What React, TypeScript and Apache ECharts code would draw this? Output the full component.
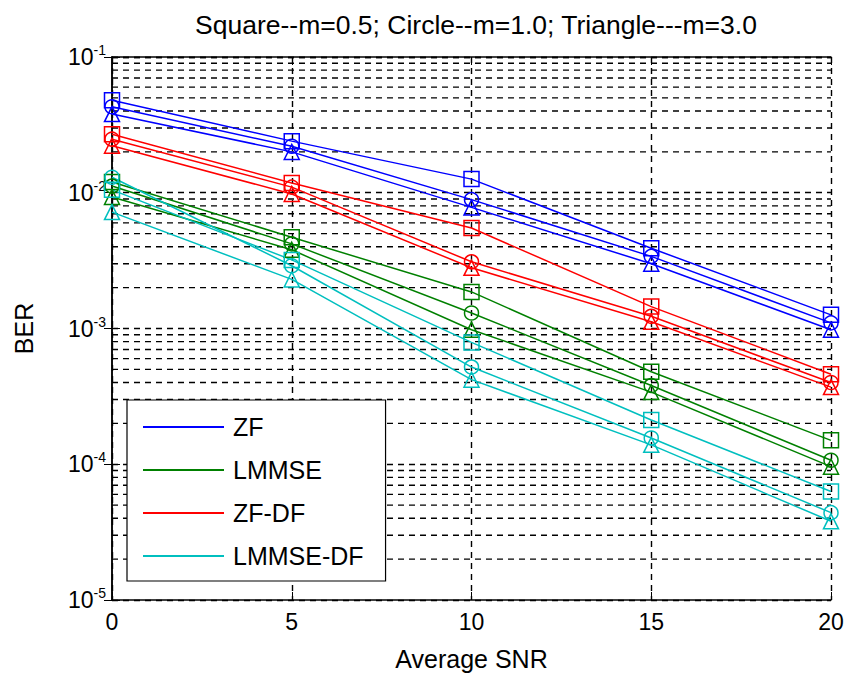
import React, { useEffect, useRef } from "react";
import * as echarts from "echarts";

const snr = [0, 5, 10, 15, 20];
const xTicks = [0, 5, 10, 15, 20];
const methods = ["ZF", "LMMSE", "ZF-DF", "LMMSE-DF"];
const methodColors = ["#0000ff", "#008000", "#ff0000", "#00bfbf"];
const markerNames = ["Square", "Circle", "Triangle"];
const markerSymbols = ["rect", "circle", "triangle"];

const zfSquare = [0.048, 0.024, 0.0126, 0.0039, 0.00126];
const zfCircle = [0.043, 0.022, 0.0089, 0.0034, 0.0011];
const zfTriangle = [0.038, 0.02, 0.0078, 0.003, 0.00098];

const lmmseSquare = [0.012, 0.0047, 0.00186, 0.00048, 0.00015];
const lmmseCircle = [0.0112, 0.0042, 0.0013, 0.00038, 0.000107];
const lmmseTriangle = [0.0093, 0.0038, 0.00098, 0.00034, 0.000096];

const zfdfSquare = [0.027, 0.0118, 0.0055, 0.00145, 0.00046];
const zfdfCircle = [0.0248, 0.011, 0.0031, 0.00123, 0.0004];
const zfdfTriangle = [0.0222, 0.0098, 0.0028, 0.00112, 0.00037];

const lmmsedfSquare = [0.0105, 0.0032, 0.00079, 0.000212, 0.000063];
const lmmsedfCircle = [0.013, 0.0029, 0.00052, 0.000156, 0.000044];
const lmmsedfTriangle = [0.0072, 0.0023, 0.00042, 0.000139, 0.000038];

const seriesValues = [
  [zfSquare, zfCircle, zfTriangle],
  [lmmseSquare, lmmseCircle, lmmseTriangle],
  [zfdfSquare, zfdfCircle, zfdfTriangle],
  [lmmsedfSquare, lmmsedfCircle, lmmsedfTriangle],
];

const yMin = 1e-5;
const yMax = 1e-1;
const minorMultipliers = [2, 3, 4, 5, 6, 7, 8, 9];
const minorDecades = [1e-5, 1e-4, 1e-3, 1e-2];

const titleText = "Square--m=0.5; Circle--m=1.0; Triangle---m=3.0";
const xName = "Average SNR";
const yName = "BER";

const FONT = "'Liberation Sans', Arial, sans-serif";

export default function App() {
  const ref = useRef<HTMLDivElement>(null);

  useEffect(() => {
    if (!ref.current) return;
    const chart = echarts.init(ref.current, null, { renderer: "svg" });

    const gridDash = { color: "#000", type: [6, 5] as any, width: 1.4 };

    const series: any[] = [];

    // minor grid lines at 2..9 x 10^k, drawn through the axis scales
    minorDecades.forEach((d) =>
      minorMultipliers.forEach((m) => {
        const v = m * d;
        series.push({
          name: "grid " + v,
          type: "line",
          data: [
            [xTicks[0], v],
            [xTicks[xTicks.length - 1], v],
          ],
          symbol: "none",
          silent: true,
          lineStyle: gridDash,
          emphasis: { disabled: true },
          z: 1,
        });
      })
    );

    methods.forEach((name, mi) => {
      markerSymbols.forEach((sym, si) => {
        series.push({
          name: name + " " + markerNames[si],
          type: "line",
          xAxisIndex: 0,
          yAxisIndex: 0,
          data: snr.map((x, i) => [x, seriesValues[mi][si][i]]),
          symbol: sym,
          symbolSize: sym === "circle" ? 14 : 15,
          lineStyle: { color: methodColors[mi], width: 1.5 },
          itemStyle: {
            color: "rgba(0,0,0,0)",
            borderColor: methodColors[mi],
            borderWidth: 1.5,
          },
          emphasis: { disabled: true },
          z: 3,
        });
      });
    });

    // legend entries
    methods.forEach((name, mi) => {
      series.push({
        name,
        type: "line",
        data: [],
        symbol: "none",
        color: methodColors[mi],
        lineStyle: { color: methodColors[mi], width: 1.5 },
      });
    });

    const expLabel = (v: number) => {
      const e = Math.round(Math.log10(v));
      return `{b|10}{e|${e}}`;
    };

    chart.setOption({
      animation: false,
      backgroundColor: "#fff",
      textStyle: { fontFamily: FONT },
      title: {
        text: titleText,
        left: 471,
        top: 6,
        textAlign: "center",
        textStyle: {
          fontFamily: FONT,
          fontSize: 26.5,
          fontWeight: "normal",
          color: "#000",
        },
      },
      grid: { left: 112, right: 16, top: 57, bottom: 85, containLabel: false },
      legend: {
        show: true,
        orient: "vertical",
        left: 127,
        top: 400,
        data: methods.map((n, i) => ({
          name: n,
          icon: "rect",
          itemStyle: { color: methodColors[i] },
        })),
        itemWidth: 81,
        itemHeight: 2,
        itemGap: 13,
        padding: [12, 22, 10, 16],
        borderColor: "#000",
        borderWidth: 1.2,
        backgroundColor: "#fff",
        selectedMode: false,
        textStyle: {
          fontFamily: FONT,
          fontSize: 25,
          lineHeight: 30,
          color: "#000",
          padding: [0, 0, 0, 4],
        },
        z: 10,
      },
      xAxis: [
        {
          type: "value",
          min: 0,
          max: 20,
          interval: 5,
          position: "bottom",
          name: xName,
          nameLocation: "middle",
          nameGap: 46,
          nameTextStyle: { fontFamily: FONT, fontSize: 25, color: "#000" },
          axisLine: { show: true, lineStyle: { color: "#000", width: 1.5 } },
          axisTick: { show: true, inside: true, length: 8, lineStyle: { color: "#000" } },
          axisLabel: {
            show: true,
            margin: 10,
            fontFamily: FONT,
            fontSize: 23,
            color: "#000",
            formatter: (v: number) => (xTicks.includes(v) ? String(v) : ""),
          },
          splitLine: { show: true, lineStyle: gridDash },
        },
        {
          type: "value",
          min: 0,
          max: 20,
          interval: 5,
          position: "top",
          axisLine: { show: true, lineStyle: { color: "#000", width: 1.5 } },
          axisTick: { show: true, inside: true, length: 8, lineStyle: { color: "#000" } },
          axisLabel: { show: false },
          splitLine: { show: false },
        },
      ],
      yAxis: [
        {
          type: "log",
          logBase: 10,
          min: yMin,
          max: yMax,
          position: "left",
          name: yName,
          nameLocation: "middle",
          nameGap: 76,
          nameTextStyle: { fontFamily: FONT, fontSize: 25, color: "#000" },
          axisLine: { show: true, lineStyle: { color: "#000", width: 1.5 } },
          axisTick: { show: true, inside: true, length: 8, lineStyle: { color: "#000" } },
          axisLabel: {
            show: true,
            margin: 6,
            formatter: expLabel,
            rich: {
              b: { fontFamily: FONT, fontSize: 23, color: "#000" },
              e: { fontFamily: FONT, fontSize: 14, color: "#000", padding: [0, 0, 14, 0] },
            },
          },
          splitLine: { show: true, lineStyle: gridDash },
        },
        {
          type: "log",
          logBase: 10,
          min: yMin,
          max: yMax,
          position: "right",
          axisLine: { show: true, lineStyle: { color: "#000", width: 1.5 } },
          axisTick: { show: true, inside: true, length: 8, lineStyle: { color: "#000" } },
          axisLabel: { show: false },
          splitLine: { show: false },
        },
      ],
      series,
    });

    return () => chart.dispose();
  }, []);

  return (
    <div
      ref={ref}
      style={{ position: "fixed", left: 0, top: 0, width: 847, height: 685, background: "#fff" }}
    />
  );
}
